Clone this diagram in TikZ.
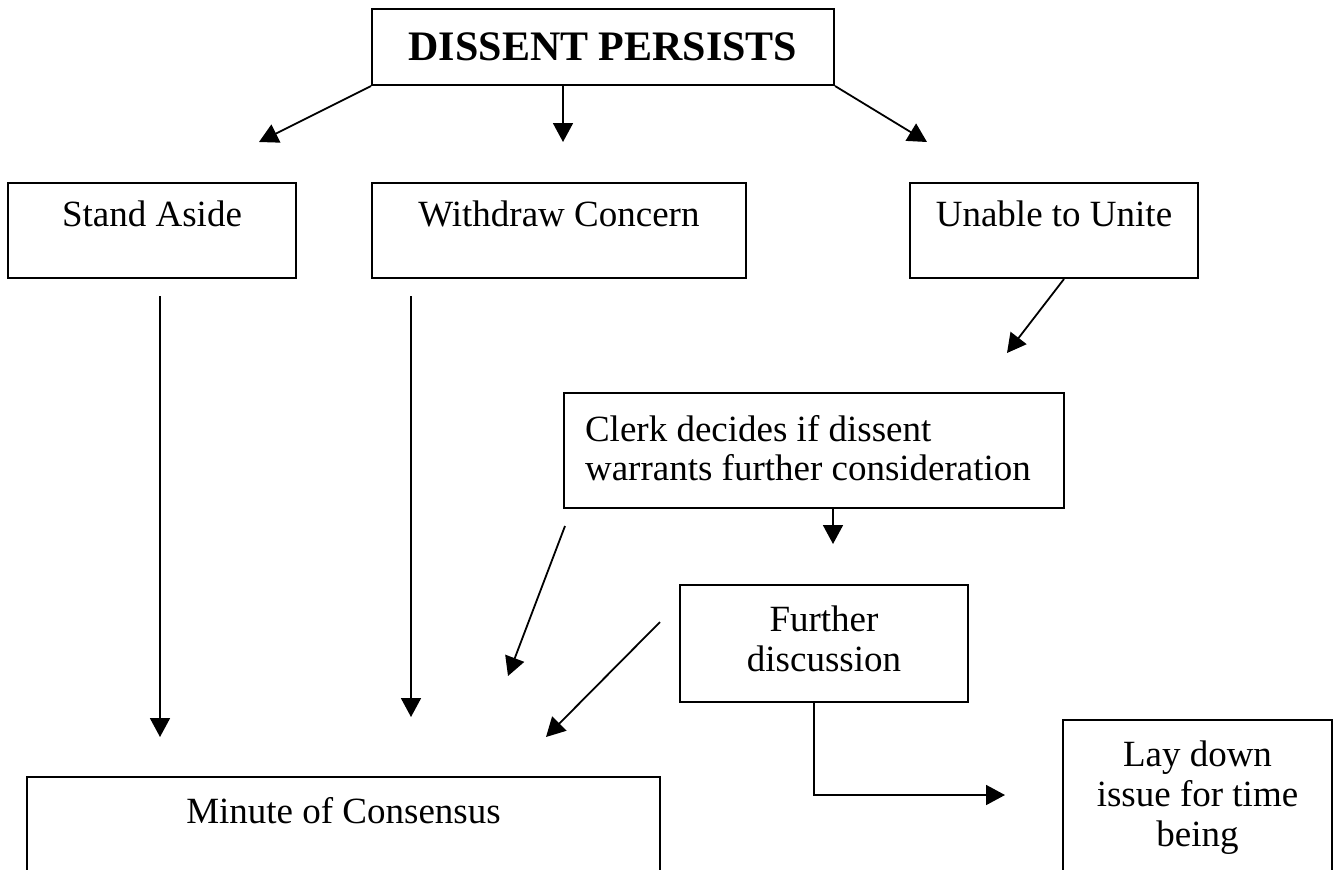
\documentclass[tikz,border=0pt]{standalone}
\usepackage{fontspec}
\setmainfont{Liberation Serif}
\usetikzlibrary{arrows.meta}

\newcommand\rowsc[2]{\vtop{\baselineskip=#1\lineskiplimit=-\maxdimen\halign{\hfil##\hfil\cr#2\crcr}}}
\newcommand\rowsl[2]{\vtop{\baselineskip=#1\lineskiplimit=-\maxdimen\halign{##\hfil\cr#2\crcr}}}

\begin{document}
\begin{tikzpicture}[x=0.5pt,y=-0.5pt,
  box/.style={draw,line width=1pt,anchor=north west,inner sep=0pt,font=\fontsize{18.5}{22}\selectfont},
  arr/.style={-{Triangle[length=9.5pt,width=10pt]},line width=0.9pt}]
  \useasboundingbox (0,0) rectangle (1338,869);
  \clip (0,0) rectangle (1338,869);

  \node[box,minimum width=231pt,text height=25.5pt,text depth=12.5pt,font=\fontsize{21}{25}\selectfont\bfseries] (title) at (371,8) {DISSENT PERSISTS};

  \node[box,minimum width=144pt,text height=21.5pt,text depth=26pt] (stand) at (7,182) {Stand Aside};
  \node[box,minimum width=187pt,text height=21.5pt,text depth=26pt] (withdraw) at (371,182) {Withdraw Concern};
  \node[box,minimum width=144pt,text height=21.5pt,text depth=26pt] (unable) at (909,182) {Unable to Unite};

  \node[box,minimum width=250pt,text height=24pt,text depth=33.5pt] (clerk) at (563,392)
    {\rowsl{19.5pt}{Clerk decides if dissent\cr warrants further consideration}\kern6pt};
  \node[box,minimum width=144pt,text height=23pt,text depth=35.5pt] (further) at (679,584)
    {\rowsc{20pt}{Further\cr discussion}};
  \node[box,minimum width=134.5pt,text height=23pt,text depth=68pt] (laydown) at (1062,719)
    {\rowsc{20pt}{Lay down\cr issue for time\cr being}};
  \node[box,minimum width=316.5pt,text height=23pt,text depth=40pt] (minute) at (26,776) {Minute of Consensus};

  % free ends
  \coordinate (tL) at (259,142);
  \coordinate (tM) at (563,142);
  \coordinate (tR) at (927,142);
  \coordinate (s1) at (160,296);
  \coordinate (s2) at (160,737);
  \coordinate (w1) at (411,296);
  \coordinate (w2) at (411,717);
  \coordinate (u2) at (1007,353);
  \coordinate (c2) at (833,544);
  \coordinate (m1) at (565,526);
  \coordinate (m2) at (508,676);
  \coordinate (f1) at (660,622);
  \coordinate (f2) at (546,737);
  \coordinate (l2) at (1005,795);

  \draw[arr] (title.south west) -- (tL);
  \draw[arr] (title.south -| tM) -- (tM);
  \draw[arr] (title.south east) -- (tR);
  \draw[arr] (s1) -- (s2);
  \draw[arr] (w1) -- (w2);
  \draw[arr] ([xshift=5pt]unable.south) -- (u2);
  \draw[arr] (clerk.south -| c2) -- (c2);
  \draw[arr] (m1) -- (m2);
  \draw[arr] (f1) -- (f2);
  \draw[arr] ([xshift=-5pt]further.south) |- (l2);
\end{tikzpicture}
\end{document}
